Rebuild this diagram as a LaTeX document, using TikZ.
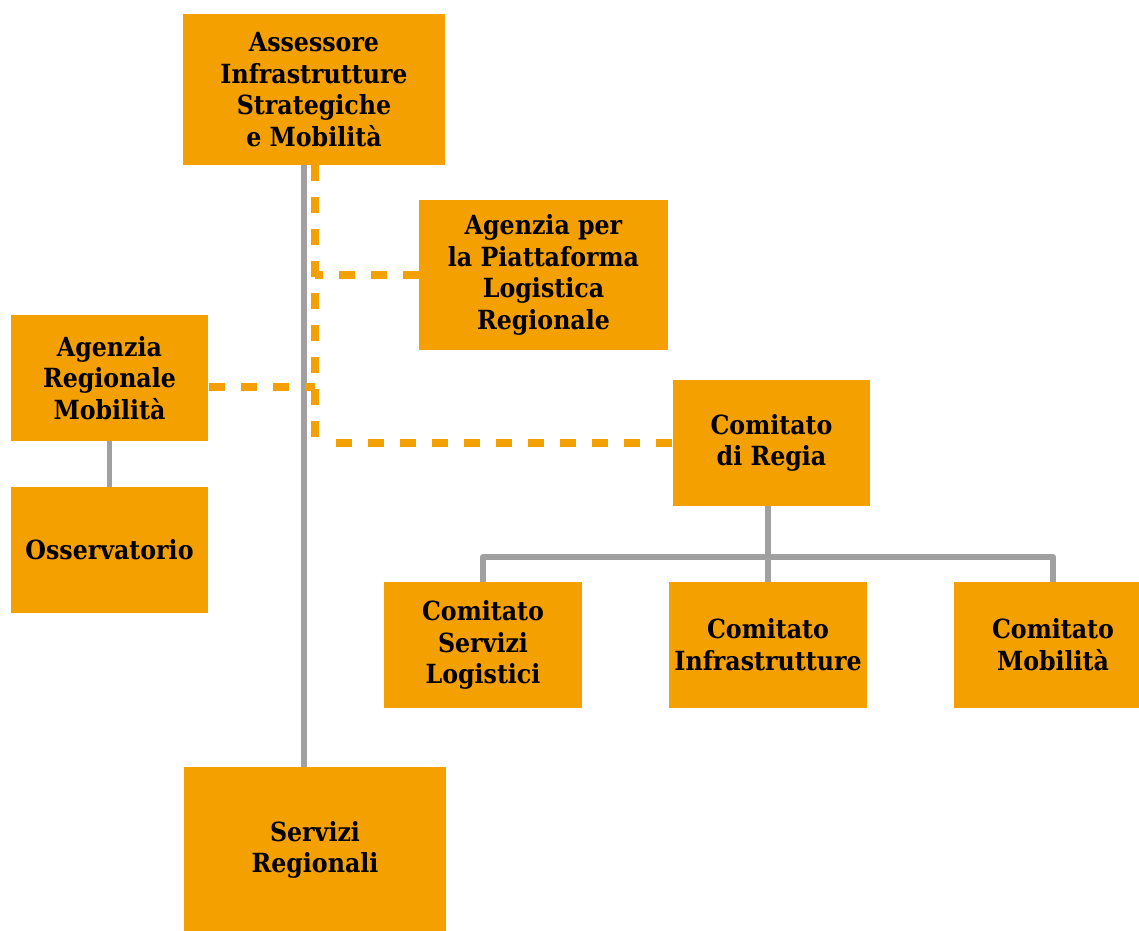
\documentclass[tikz,border=0pt]{standalone}
\usepackage{fontspec}
\setmainfont{DejaVu Serif Condensed}
\usepackage{tikz}
\definecolor{ochre}{RGB}{243,160,0}
\definecolor{wire}{RGB}{160,160,160}

\begin{document}
\begin{tikzpicture}[x=0.02cm,y=-0.02cm,
  box/.style={fill=ochre,draw=none,align=center,inner sep=0pt,
    font=\bfseries\fontsize{15}{18.1}\selectfont},
  small box/.style={box,minimum width=3.95cm,minimum height=2.52cm},
  big box/.style={box,minimum width=5.24cm},
  tree/.style={draw=wire,line width=0.11cm,line join=round},
  staff/.style={draw=ochre,line width=0.16cm,dash pattern=on 0.32cm off 0.32cm}]

  \useasboundingbox (0,0) rectangle (1139,930);

  \node[big box,minimum height=3.02cm] (1) at (314,89.5) {Assessore\\Infrastrutture\\Strategiche\\e Mobilità};
  \node[box,minimum width=4.98cm,minimum height=3cm] (2) at (543.5,275) {Agenzia per\\la Piattaforma\\Logistica\\Regionale};
  \node[small box] (3) at (109.5,378) {Agenzia\\Regionale\\Mobilità};
  \node[small box] (4) at (109.5,550) {Osservatorio};
  \node[small box] (5) at (771.5,443) {Comitato\\di Regia};
  \node[small box] (6) at (483,645) {Comitato\\Servizi\\Logistici};
  \node[small box] (7) at (768,645) {Comitato\\Infrastrutture};
  \node[small box] (8) at (1053,645) {Comitato\\Mobilità};
  \node[big box,minimum height=3.32cm] (9) at (315,850) {Servizi\\Regionali};

  \coordinate (spine) at (304,0);
  \coordinate (staff) at (315,0);
  \coordinate (bus) at (0,557);

  % hierarchy
  \draw[tree] (1.south -| spine) -- (9.north -| spine);
  \draw[tree] (3.south) -- (4.north);
  \draw[tree] (5.south -| 7.north) -- (7.north);
  \draw[tree] (6.north) -- (6.north |- bus) -- (8.north |- bus) -- (8.north);

  % staff links
  \draw[staff] (1.south -| staff) -- (5.west -| staff);
  \draw[staff] (5.west) -- ([xshift=0.12cm]5.west -| staff);
  \draw[staff] (2.west) -- (2.west -| staff);
  \draw[staff] ([yshift=-0.18cm]3.east) -- ([yshift=-0.18cm]3.east -| staff);
\end{tikzpicture}
\end{document}
